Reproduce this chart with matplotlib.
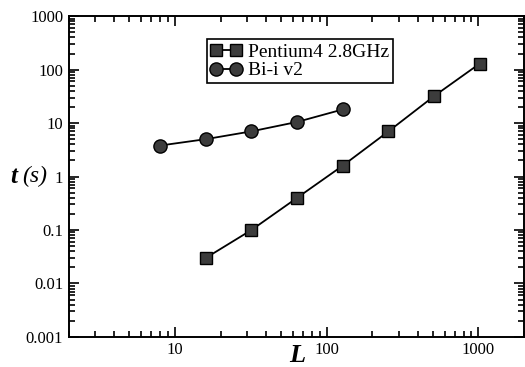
import matplotlib
matplotlib.use("Agg")
from matplotlib import pyplot as plt
from matplotlib.ticker import LogLocator, NullFormatter

# data
L_pentium = [16, 32, 64, 128, 256, 512, 1024]
t_pentium = [0.03, 0.1, 0.4, 1.6, 7.0, 32.0, 130.0]
L_bii = [8, 16, 32, 64, 128]
t_bii = [3.8, 5.0, 7.0, 10.5, 18.0]

x_ticks = [10, 100, 1000]
x_labels = ["10", "100", "1000"]
y_ticks = [0.001, 0.01, 0.1, 1, 10, 100, 1000]
y_labels = ["0.001", "0.01", "0.1", "1", "10", "100", "1000"]

plt.rcParams["font.family"] = ["Liberation Serif", "DejaVu Serif"]

fig = plt.figure(figsize=(5.25, 3.67), dpi=100)
ax = fig.add_axes([0.131, 0.082, 0.867, 0.874])

face = "#3c3c3c"
ax.plot(L_pentium, t_pentium, color="black", lw=1.3, marker="s", ms=8.5,
        mfc=face, mec="black", mew=1.0, label="Pentium4 2.8GHz")
ax.plot(L_bii, t_bii, color="black", lw=1.3, marker="o", ms=9.5,
        mfc=face, mec="black", mew=1.0, label="Bi-i v2")

ax.set_xscale("log")
ax.set_yscale("log")
ax.set_xlim(2, 2000)
ax.set_ylim(0.001, 1000)

ax.set_xticks(x_ticks)
ax.set_xticklabels(x_labels)
ax.xaxis.set_minor_locator(LogLocator(base=10, subs=range(2, 10), numticks=20))
ax.xaxis.set_minor_formatter(NullFormatter())
ax.set_yticks(y_ticks)
ax.set_yticklabels(y_labels)
ax.yaxis.set_minor_locator(LogLocator(base=10, subs=range(2, 10), numticks=20))
ax.yaxis.set_minor_formatter(NullFormatter())

ax.tick_params(which="both", direction="in", top=True, right=True,
               labelsize=12, width=1.2)
ax.tick_params(which="major", length=7, pad=4)
ax.tick_params(which="minor", length=4)
for s in ax.spines.values():
    s.set_linewidth(1.4)

leg = ax.legend(loc="upper left", bbox_to_anchor=(0.303, 0.928), numpoints=2,
                fancybox=False, edgecolor="black", framealpha=1, fontsize=14,
                handlelength=1.6, handletextpad=0.3, borderpad=0.2,
                labelspacing=0.05, borderaxespad=0)
leg.get_frame().set_linewidth(1.2)

fig.text(0.566, 0.0, "L", fontsize=19, fontweight="bold", style="italic",
         ha="center", va="bottom")
fig.text(0.019, 0.518, "t", fontsize=18, fontweight="bold", style="italic",
         ha="left", va="center")
fig.text(0.042, 0.518, "(s)", fontsize=17, style="italic",
         ha="left", va="center")

fig.savefig("out.png", dpi=100)
